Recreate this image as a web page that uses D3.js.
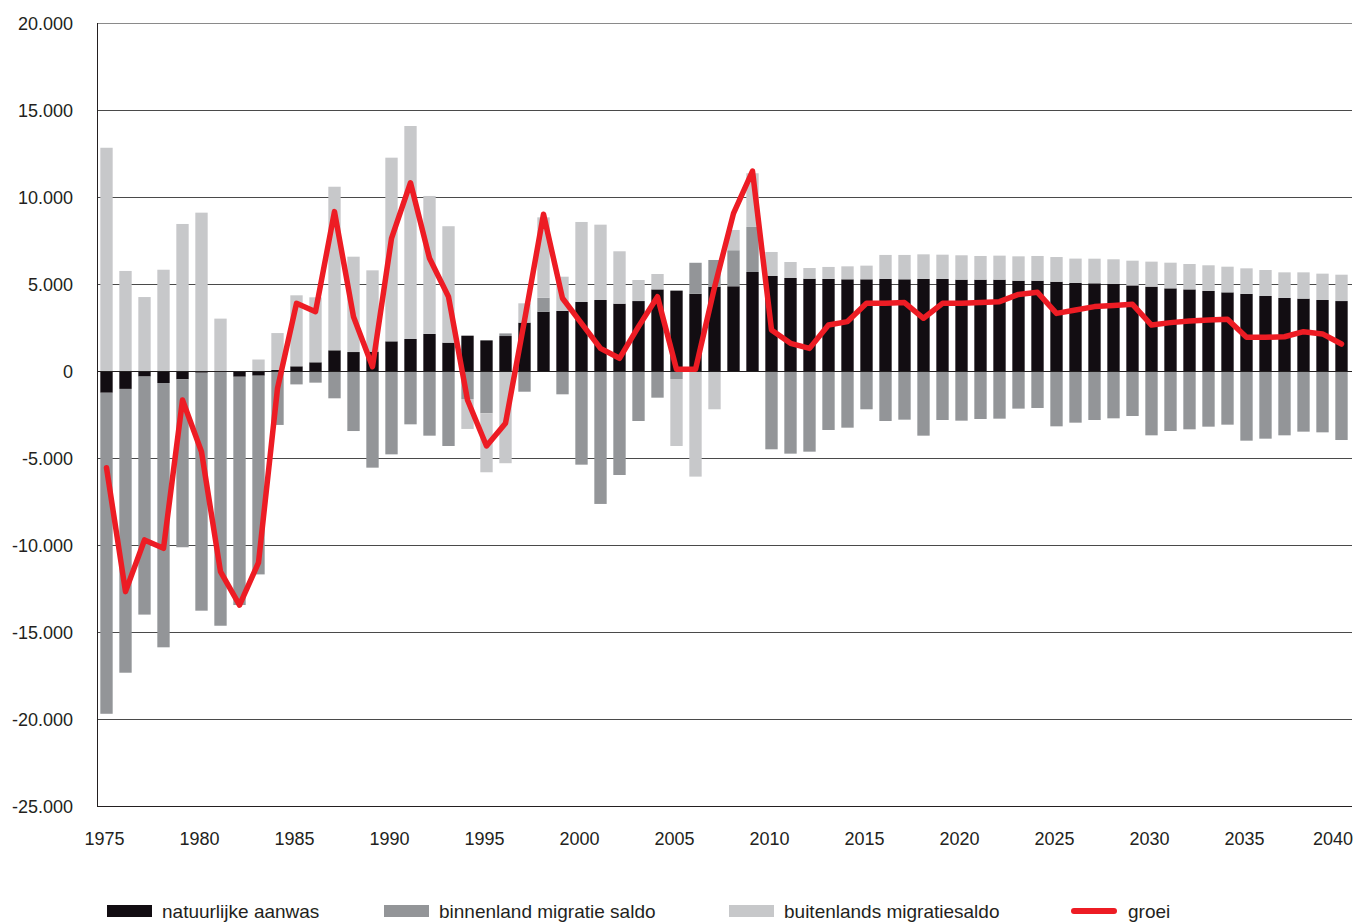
<!DOCTYPE html>
<html>
<head>
<meta charset="utf-8">
<script src="https://cdn.jsdelivr.net/npm/d3@7"></script>
<style>
  html, body { margin: 0; padding: 0; background: #fff; }
  svg { display: block; }
  text { font-family: "Liberation Sans", Arial, sans-serif; fill: #231f20; }
</style>
</head>
<body>
<svg id="chart" width="1355" height="922"></svg>
<script>
// Population change components per year (persons)
const years = d3.range(1975, 2041);

const natuurlijk = [
  -1250, -1030, -320, -690, -480, -100, -50, -330, -270, 60,
  270, 500, 1190, 1090, 1110, 1705, 1840, 2130, 1630, 2030,
  1760, 2010, 2780, 3410, 3450, 3965, 4080, 3870, 4020, 4690,
  4620, 4440, 4850, 4870, 5690, 5460, 5345, 5305, 5290, 5270,
  5270, 5290, 5270, 5290, 5290, 5250, 5250, 5250, 5190, 5190,
  5130, 5060, 5040, 5000, 4920, 4850, 4750, 4690, 4600, 4520,
  4430, 4310, 4200, 4160, 4080, 4020
];

const binnenland = [
  -18450, -16310, -13680, -15190, -9650, -13675, -14590, -13120, -11420, -3100,
  -770, -670, -1570, -3450, -5555, -4790, -3065, -3716, -4310, -1610,
  -2430, 150, -1190, 800, -1340, -5383, -7640, -5977, -2873, -1533,
  -460, 1780, 1530, 2070, 2590, -4500, -4750, -4636, -3390, -3257,
  -2200, -2873, -2797, -3716, -2816, -2854, -2758, -2739, -2163, -2126,
  -3180, -2969, -2816, -2720, -2586, -3697, -3448, -3352, -3199, -3084,
  -4004, -3889, -3697, -3486, -3525, -3966
];

const buitenlands = [
  12830, 5750, 4250, 5820, 8450, 9100, 3010, 0, 660, 2120,
  4080, 3735, 9400, 5480, 4675, 10555, 12240, 7930, 6690, -1720,
  -3390, -5300, 1110, 4620, 1970, 4600, 4330, 3010, 1210, 885,
  -3850, -6070, -2200, 1165, 3085, 1380, 920, 615, 690, 745,
  785, 1380, 1400, 1415, 1395, 1400, 1360, 1380, 1400, 1420,
  1420, 1400, 1415, 1420, 1420, 1435, 1475, 1460, 1475, 1475,
  1470, 1495, 1470, 1510, 1515, 1515
];

const groei = [
  -5560, -12680, -9710, -10190, -1670, -4640, -11530, -13450, -11015, -1000,
  3890, 3410, 9160, 3120, 250, 7625, 10820, 6480, 4270, -1670,
  -4310, -3000, 2900, 9010, 4180, 2740, 1300, 730, 2550, 4270,
  100, 100, 4800, 9060, 11490, 2360, 1590, 1300, 2640, 2840,
  3890, 3890, 3930, 3030, 3890, 3890, 3930, 3985, 4400, 4520,
  3310, 3510, 3700, 3760, 3830, 2640, 2780, 2870, 2930, 2970,
  1935, 1935, 1970, 2260, 2130, 1550
];

const yTicks = [20000, 15000, 10000, 5000, 0, -5000, -10000, -15000, -20000, -25000];
const xTickYears = [1975, 1980, 1985, 1990, 1995, 2000, 2005, 2010, 2015, 2020, 2025, 2030, 2035, 2040];

const seriesKeys = ["natuurlijk", "binnenland", "buitenlands"];
const seriesLabels = ["natuurlijke aanwas", "binnenland migratie saldo", "buitenlands migratiesaldo"];
const colors = { natuurlijk: "#120d12", binnenland: "#939598", buitenlands: "#c7c8ca" };
const lineColor = "#ed1c24";

// Table for the stack layout
const table = years.map((yr, i) => ({
  year: yr,
  natuurlijk: natuurlijk[i],
  binnenland: binnenland[i],
  buitenlands: buitenlands[i],
  groei: groei[i]
}));

const svg = d3.select("#chart");
const plotLeft = 97, plotRight = 1351, plotTop = 23, plotBottom = 806;

const x = d3.scaleBand()
  .domain(years)
  .range([plotLeft, plotRight])
  .paddingInner(0.35)
  .paddingOuter(0.175);

const y = d3.scaleLinear().domain([-25000, 20000]).range([plotBottom, plotTop]);

// Dutch thousands separator, plain hyphen for negatives
const fmt = v => d3.format(",")(Math.abs(v)).replace(/,/g, ".").replace(/^/, v < 0 ? "-" : "");

// Horizontal gridlines
svg.append("g")
  .selectAll("line")
  .data(yTicks.filter(t => t !== -25000 && t !== 0))
  .join("line")
  .attr("x1", plotLeft).attr("x2", 1352)
  .attr("y1", d => Math.round(y(d)) + 0.5)
  .attr("y2", d => Math.round(y(d)) + 0.5)
  .attr("stroke", d => d === 20000 ? "#8a8a8a" : "#4a4a4a")
  .attr("stroke-width", 1);

// Stacked bars, positive and negative parts diverge from zero
const stack = d3.stack().keys(seriesKeys).offset(d3.stackOffsetDiverging);
const layers = stack(table);

svg.append("g")
  .selectAll("g")
  .data(layers)
  .join("g")
  .attr("fill", d => colors[d.key])
  .selectAll("rect")
  .data(d => d)
  .join("rect")
  .attr("x", d => x(d.data.year))
  .attr("width", x.bandwidth())
  .attr("y", d => y(Math.max(d[0], d[1])))
  .attr("height", d => Math.abs(y(d[0]) - y(d[1])));

// Zero line and axes
svg.append("line")
  .attr("x1", plotLeft).attr("x2", 1352)
  .attr("y1", Math.round(y(0)) + 0.5).attr("y2", Math.round(y(0)) + 0.5)
  .attr("stroke", "#231f20").attr("stroke-width", 1);

svg.append("line")
  .attr("x1", plotLeft).attr("x2", 1352)
  .attr("y1", Math.round(y(-25000)) + 0.5).attr("y2", Math.round(y(-25000)) + 0.5)
  .attr("stroke", "#231f20").attr("stroke-width", 1);

svg.append("line")
  .attr("x1", plotLeft + 0.5).attr("x2", plotLeft + 0.5)
  .attr("y1", y(20000)).attr("y2", y(-25000))
  .attr("stroke", "#231f20").attr("stroke-width", 1);

// Y tick labels
svg.append("g")
  .selectAll("text")
  .data(yTicks)
  .join("text")
  .attr("x", 73)
  .attr("y", d => y(d) + 6.5)
  .attr("text-anchor", "end")
  .attr("font-size", 18)
  .text(d => fmt(d));

// X tick labels
svg.append("g")
  .selectAll("text")
  .data(xTickYears)
  .join("text")
  .attr("x", d => d === 2040 ? 1353 : x(d) + x.bandwidth() / 2 - 2)
  .attr("y", 845)
  .attr("text-anchor", d => d === 2040 ? "end" : "middle")
  .attr("font-size", 18)
  .text(d => d);

// Growth line
const line = d3.line()
  .x(d => x(d.year) + x.bandwidth() / 2)
  .y(d => y(d.groei));

svg.append("path")
  .datum(table)
  .attr("d", line)
  .attr("fill", "none")
  .attr("stroke", lineColor)
  .attr("stroke-width", 5.5)
  .attr("stroke-linejoin", "round")
  .attr("stroke-linecap", "round");

// Legend
const legendItems = [
  { label: seriesLabels[0], color: colors.natuurlijk, x: 107, type: "rect" },
  { label: seriesLabels[1], color: colors.binnenland, x: 384, type: "rect" },
  { label: seriesLabels[2], color: colors.buitenlands, x: 729, type: "rect" },
  { label: "groei", color: lineColor, x: 1071, type: "line" }
];

const lg = svg.append("g")
  .selectAll("g")
  .data(legendItems)
  .join("g")
  .attr("transform", d => `translate(${d.x},0)`);

lg.filter(d => d.type === "rect")
  .append("rect")
  .attr("x", 0).attr("y", 905)
  .attr("width", 45).attr("height", 12)
  .attr("fill", d => d.color);

lg.filter(d => d.type === "line")
  .append("line")
  .attr("x1", 3).attr("x2", 43)
  .attr("y1", 911).attr("y2", 911)
  .attr("stroke", d => d.color)
  .attr("stroke-width", 6)
  .attr("stroke-linecap", "round");

lg.append("text")
  .attr("x", d => d.type === "line" ? 57 : 55)
  .attr("y", 918)
  .attr("font-size", 19)
  .text(d => d.label);
</script>
</body>
</html>
